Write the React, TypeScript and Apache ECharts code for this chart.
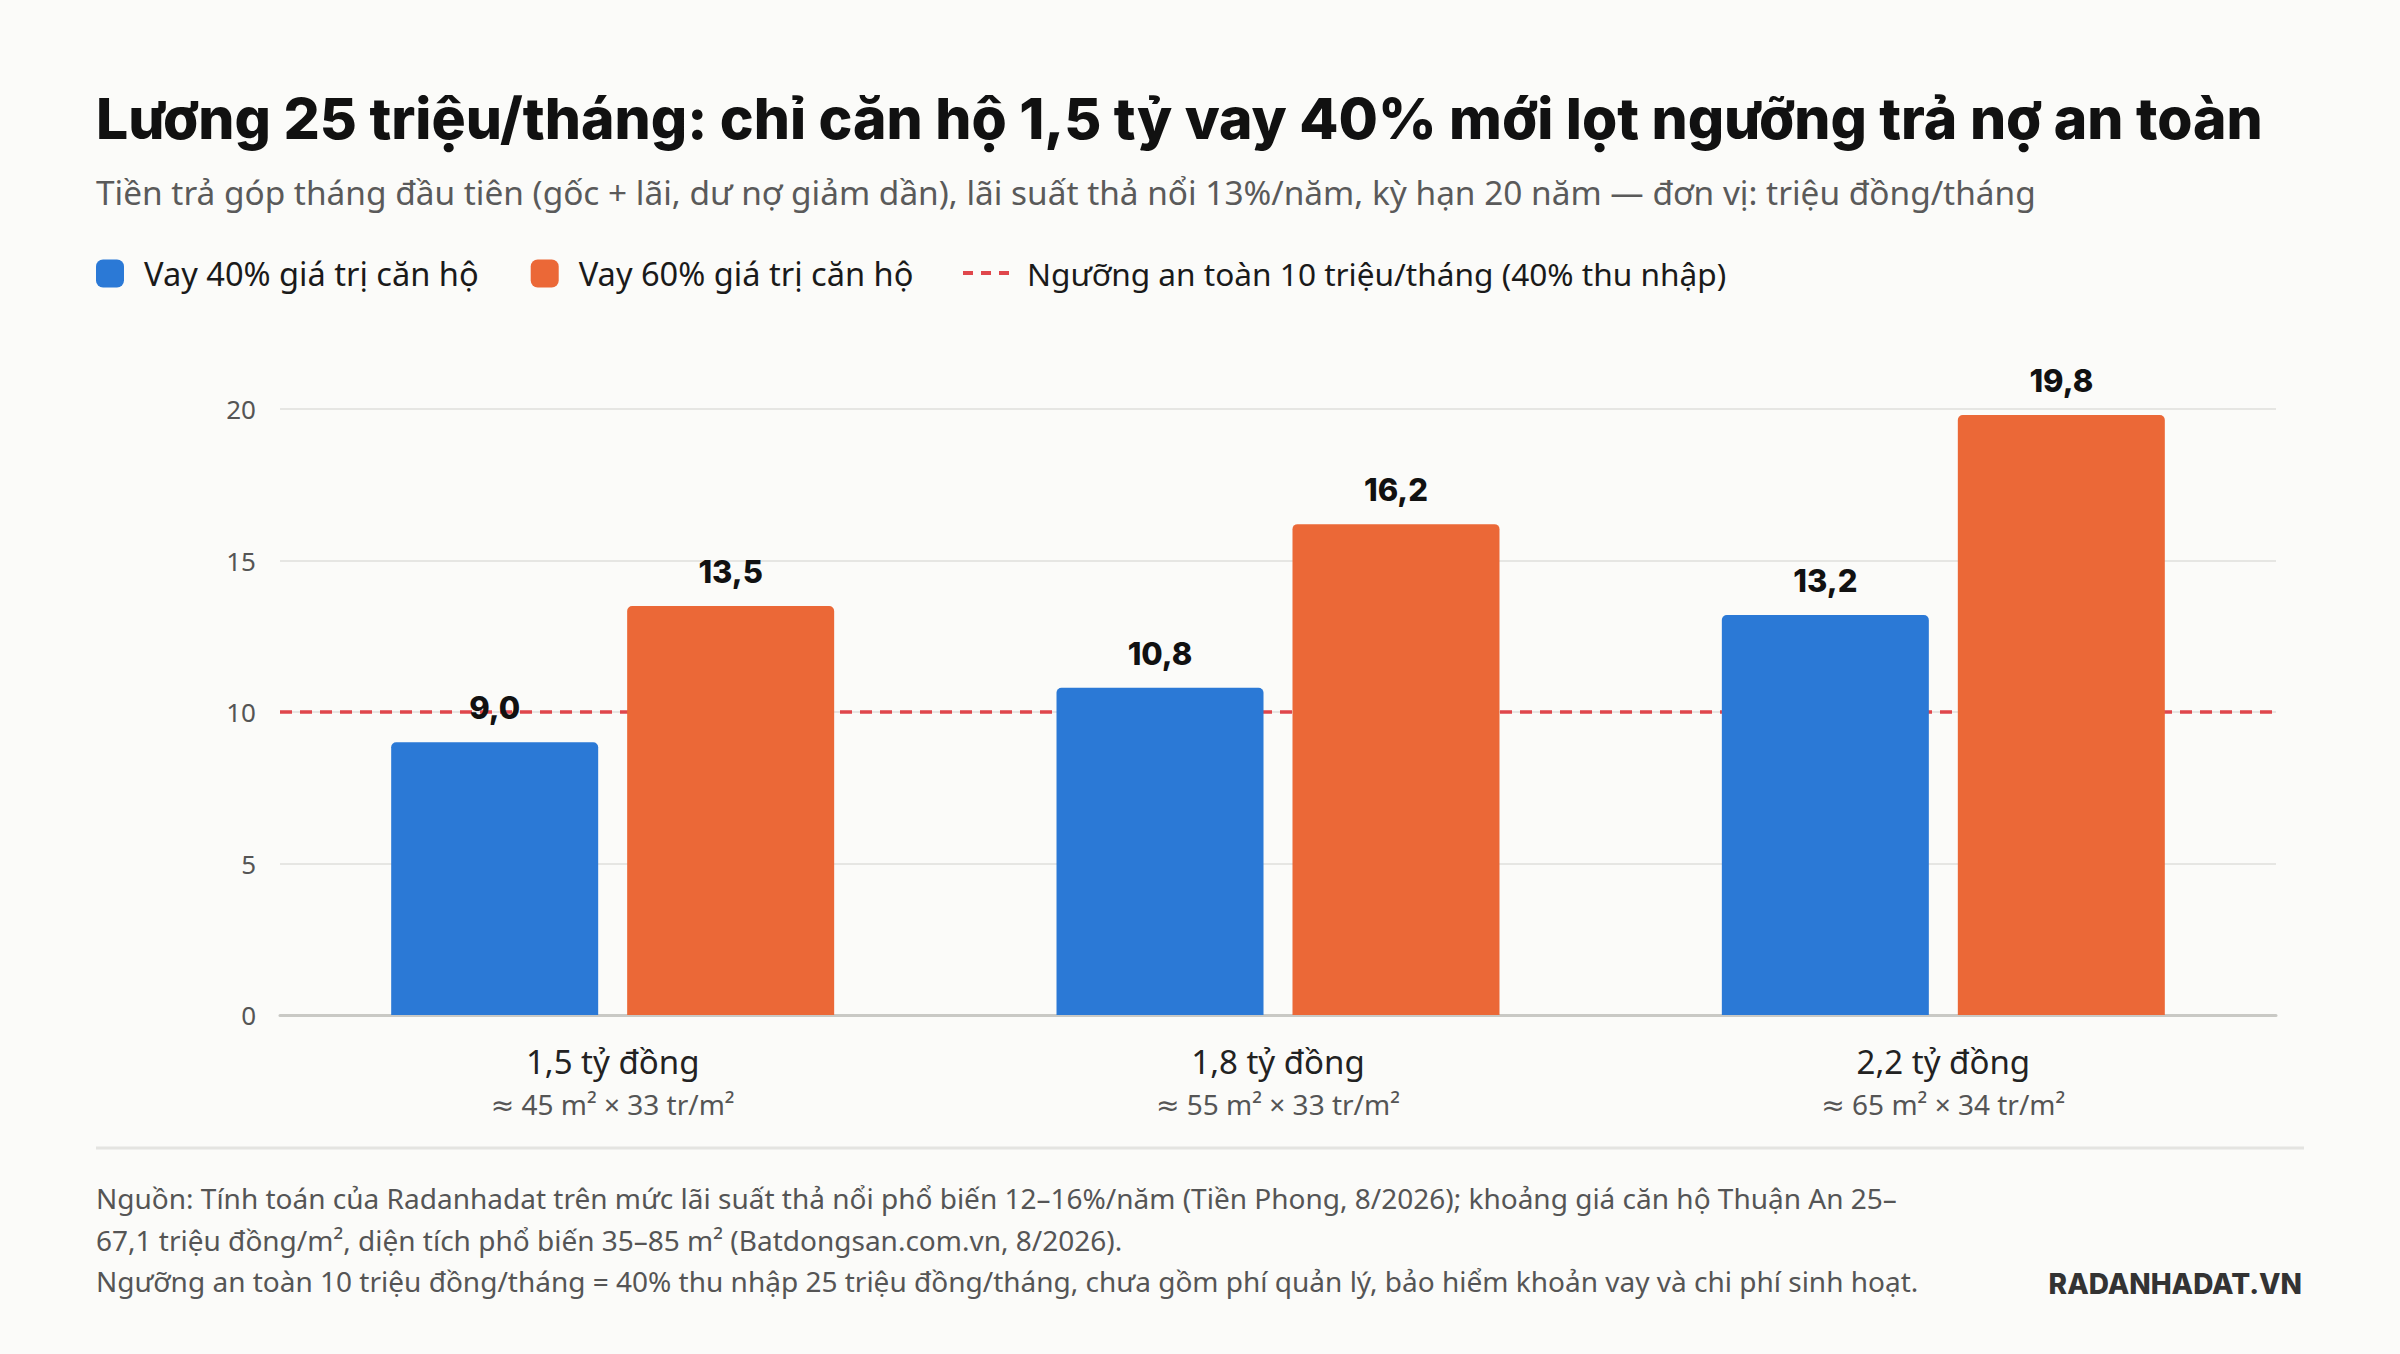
import React, { useEffect, useRef } from "react";
import * as echarts from "echarts";

const TITLE = "Lương 25 triệu/tháng: chỉ căn hộ 1,5 tỷ vay 40% mới lọt ngưỡng trả nợ an toàn";
const SUBTITLE =
  "Tiền trả góp tháng đầu tiên (gốc + lãi, dư nợ giảm dần), lãi suất thả nổi 13%/năm, kỳ hạn 20 năm — đơn vị: triệu đồng/tháng";
const FOOTER_LINES = [
  "Nguồn: Tính toán của Radanhadat trên mức lãi suất thả nổi phổ biến 12–16%/năm (Tiền Phong, 8/2026); khoảng giá căn hộ Thuận An 25–",
  "67,1 triệu đồng/m², diện tích phổ biến 35–85 m² (Batdongsan.com.vn, 8/2026).",
  "Ngưỡng an toàn 10 triệu đồng/tháng = 40% thu nhập 25 triệu đồng/tháng, chưa gồm phí quản lý, bảo hiểm khoản vay và chi phí sinh hoạt.",
];
const BRAND = "RADANHADAT.VN";

const categories = ["1,5 tỷ đồng", "1,8 tỷ đồng", "2,2 tỷ đồng"];
const categoryNotes = ["≈ 45 m² × 33 tr/m²", "≈ 55 m² × 33 tr/m²", "≈ 65 m² × 34 tr/m²"];
const seriesNames = [
  "Vay 40% giá trị căn hộ",
  "Vay 60% giá trị căn hộ",
  "Ngưỡng an toàn 10 triệu/tháng (40% thu nhập)",
];
const loan40 = [9.0, 10.8, 13.2];
const loan60 = [13.5, 16.2, 19.8];
const threshold = 10;
const yMin = 0;
const yMax = 20;
const yInterval = 5;

const BODY = "'Noto Sans', 'DejaVu Sans', sans-serif";
const HEAD = "Inter, 'Noto Sans', sans-serif";
const BLUE = "#2b79d6";
const ORANGE = "#eb6837";
const RED = "#e0474c";
const BG = "#fbfbf9";

const fmt = (v: number) => v.toFixed(1).replace(".", ",");

export default function App() {
  const ref = useRef<HTMLDivElement>(null);
  useEffect(() => {
    document.body.style.margin = "0";
    const chart = echarts.init(ref.current!, null, { renderer: "svg" });
    const footerY = [1198, 1240, 1281];
    const valueLabel = {
      show: true,
      position: "top",
      distance: 19,
      fontSize: 31,
      fontWeight: 800,
      color: "#111111",
      fontFamily: HEAD,
      formatter: (p: any) => fmt(p.value),
    };
    const option: any = {
      animation: false,
      backgroundColor: BG,
      textStyle: { fontFamily: BODY },
      graphic: [
        {
          type: "text",
          x: 96,
          y: 118,
          style: {
            text: TITLE,
            fontSize: 57,
            fontWeight: 800,
            fontFamily: HEAD,
            fill: "#111111",
            verticalAlign: "middle",
          },
        },
        {
          type: "text",
          x: 96,
          y: 192,
          style: {
            text: SUBTITLE,
            fontSize: 33.4,
            fontFamily: BODY,
            fill: "#5a5a5a",
            verticalAlign: "middle",
          },
        },
        {
          type: "line",
          shape: { x1: 96, y1: 1148, x2: 2304, y2: 1148 },
          style: { stroke: "#e4e4e1", lineWidth: 3 },
        },
        ...FOOTER_LINES.map((t, i) => ({
          type: "text",
          x: 96,
          y: footerY[i],
          style: {
            text: t,
            fontSize: 28,
            fontFamily: BODY,
            fill: "#555555",
            verticalAlign: "middle",
          },
        })),
        {
          type: "text",
          x: 2302,
          y: 1284,
          style: {
            text: BRAND,
            fontSize: 28,
            fontWeight: 800,
            fontFamily: HEAD,
            fill: "#333333",
            align: "right",
            verticalAlign: "middle",
          },
        },
      ],
      legend: [
        {
          left: 96,
          top: 257,
          padding: 0,
          itemWidth: 28,
          itemHeight: 28,
          itemGap: 52,
          icon: "roundRect",
          selectedMode: false,
          data: [seriesNames[0], seriesNames[1]],
          textStyle: { fontSize: 32.6, color: "#1a1a1a", fontFamily: BODY, padding: [0, 0, 0, 15] },
        },
        {
          left: 963,
          top: 257,
          padding: 0,
          itemWidth: 46,
          itemHeight: 4,
          selectedMode: false,
          data: [
            {
              name: seriesNames[2],
              icon: "path://M0 0H10V4H0Z M18 0H28V4H18Z M36 0H46V4H36Z",
              itemStyle: { color: RED },
            },
          ],
          textStyle: { fontSize: 31.6, color: "#1a1a1a", fontFamily: BODY, padding: [0, 0, 0, 13] },
        },
      ],
      grid: { left: 280, right: 124, top: 409, bottom: 339 },
      xAxis: {
        type: "category",
        data: categories,
        axisLine: { lineStyle: { color: "#c9c9c5", width: 3 } },
        axisTick: { show: false },
        axisLabel: {
          interval: 0,
          margin: 24,
          formatter: (v: string, i: number) => `{a|${v}}\n{b|${categoryNotes[i]}}`,
          rich: {
            a: { fontSize: 33, color: "#222222", lineHeight: 44, fontFamily: BODY },
            b: { fontSize: 28, color: "#555555", lineHeight: 42, fontFamily: BODY },
          },
        },
      },
      yAxis: {
        type: "value",
        min: yMin,
        max: yMax,
        interval: yInterval,
        axisLine: { show: false },
        axisTick: { show: false },
        axisLabel: { fontSize: 26, color: "#555555", margin: 24, fontFamily: BODY },
        splitLine: { lineStyle: { color: "#e6e6e3", width: 2 } },
      },
      series: [
        {
          name: seriesNames[0],
          type: "bar",
          data: loan40,
          barWidth: 207,
          barGap: "14%",
          z: 3,
          itemStyle: { color: BLUE, borderRadius: [5, 5, 0, 0] },
          label: valueLabel,
        },
        {
          name: seriesNames[1],
          type: "bar",
          data: loan60,
          barWidth: 207,
          barGap: "14%",
          z: 3,
          itemStyle: { color: ORANGE, borderRadius: [5, 5, 0, 0] },
          label: valueLabel,
        },
        {
          name: seriesNames[2],
          type: "line",
          data: [],
          symbol: "none",
          z: 1,
          itemStyle: { color: RED },
          lineStyle: { color: RED, type: [10, 8], width: 3.5 },
          markLine: {
            silent: true,
            symbol: ["none", "none"],
            z: 1,
            label: { show: false },
            lineStyle: { color: RED, type: [12, 8], width: 3.5 },
            data: [{ yAxis: threshold }],
          },
        },
      ],
    };
    chart.setOption(option);
    return () => chart.dispose();
  }, []);
  return <div ref={ref} style={{ width: 2400, height: 1354, background: BG }} />;
}
